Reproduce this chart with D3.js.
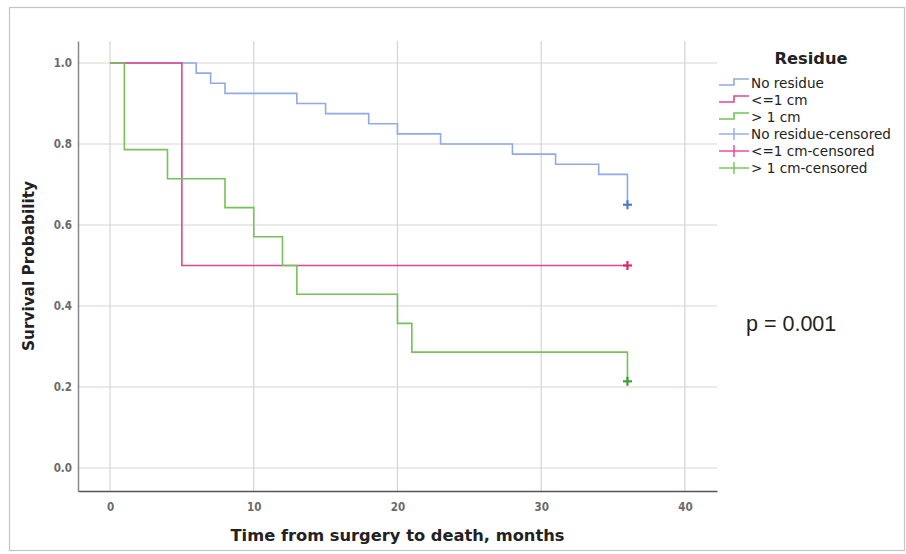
<!DOCTYPE html>
<html><head><meta charset="utf-8">
<script src="https://cdn.jsdelivr.net/npm/d3@7"></script>
<style>body{margin:0;background:#fff}svg{display:block}</style>
</head><body>
<svg id="c" width="906" height="554"></svg>
<script>
// ---- data ----
const noResidueTimes = [0, 6, 7, 8, 13, 15, 18, 20, 23, 28, 31, 34, 36];
const noResidueSurv  = [1, 0.975, 0.95, 0.925, 0.9, 0.875, 0.85, 0.825, 0.8, 0.775, 0.75, 0.725, 0.65];
const le1cmTimes = [0, 5, 36];
const le1cmSurv  = [1, 0.5, 0.5];
const gt1cmTimes = [0, 1, 4, 8, 10, 12, 13, 20, 21, 36];
const gt1cmSurv  = [1, 0.786, 0.714, 0.643, 0.571, 0.5, 0.429, 0.357, 0.286, 0.214];
const censoredTimes = [36, 36, 36];
const censoredSurv  = [0.65, 0.5, 0.214];
const seriesNames = ["No residue", "<=1 cm", "> 1 cm"];
const censoredNames = ["No residue-censored", "<=1 cm-censored", "> 1 cm-censored"];
const xTicks = [0, 10, 20, 30, 40];
const yTicks = [0, 0.2, 0.4, 0.6, 0.8, 1.0];
const legendTitle = "Residue";
const xTitle = "Time from surgery to death, months";
const yTitle = "Survival Probability";
const pText = "p = 0.001";

const lineColors = ["#91a9e4", "#e2468f", "#74c258"];
const markColors = ["#5577d0", "#d8286f", "#3f9c35"];

const svg = d3.select("#c");
svg.append("rect").attr("x", 9.5).attr("y", 7.5).attr("width", 895).attr("height", 543)
  .attr("fill", "#fff").attr("stroke", "#c4c4c4").attr("stroke-width", 1.2);

const x = d3.scaleLinear().domain([-2.226, 42.23]).range([78, 717]);
const y = d3.scaleLinear().domain([-0.0568, 1.0543]).range([491, 41]);

// grid
const grid = svg.append("g");
grid.selectAll(".vg").data(xTicks).join("line")
  .attr("x1", d => x(d)).attr("x2", d => x(d)).attr("y1", y.range()[1]).attr("y2", y.range()[0])
  .attr("stroke", "#d6d2d2").attr("stroke-width", 1.2);
grid.selectAll(".hg").data(yTicks).join("line")
  .attr("x1", x.range()[0]).attr("x2", x.range()[1]).attr("y1", d => y(d)).attr("y2", d => y(d))
  .attr("stroke", "#d9d3d3").attr("stroke-width", 1.2);

// axes
const xAxis = d3.axisBottom(x).tickValues(xTicks).tickSize(0).tickPadding(12).tickFormat(d3.format("d"));
const yAxis = d3.axisLeft(y).tickValues(yTicks).tickSize(0).tickPadding(6).tickFormat(d3.format(".1f"));
const gx = svg.append("g").attr("transform", `translate(0,${y.range()[0]})`).call(xAxis);
const gy = svg.append("g").attr("transform", `translate(${x.range()[0]},0)`).call(yAxis);
gx.select(".domain").attr("stroke", "#555").attr("stroke-width", 1.5);
gy.select(".domain").attr("stroke", "#888").attr("stroke-width", 1.5);
[gx, gy].forEach(g => g.selectAll("text")
  .attr("font-family", "'DejaVu Sans Condensed', 'DejaVu Sans', sans-serif")
  .attr("font-weight", "bold").attr("font-size", 11.5).attr("fill", "#6a6a6a"));

// curves
const line = d3.line().x(d => x(d[0])).y(d => y(d[1])).curve(d3.curveStepAfter);
const series = [
  d3.zip(noResidueTimes, noResidueSurv),
  d3.zip(le1cmTimes, le1cmSurv),
  d3.zip(gt1cmTimes, gt1cmSurv)
];
svg.append("g").selectAll("path").data(series).join("path")
  .attr("d", line).attr("fill", "none")
  .attr("stroke", (d, i) => lineColors[i]).attr("stroke-width", 1.6);

// censored marks
const cm = svg.append("g").selectAll("g").data(d3.range(censoredTimes.length)).join("g")
  .attr("transform", i => `translate(${x(censoredTimes[i])},${y(censoredSurv[i])})`)
  .attr("stroke", i => markColors[i]).attr("stroke-width", 2.2);
cm.append("line").attr("x1", -4.5).attr("x2", 4.5);
cm.append("line").attr("y1", -4.5).attr("y2", 4.5);

// titles
svg.append("text").attr("x", (x.range()[0] + x.range()[1]) / 2).attr("y", 541)
  .attr("text-anchor", "middle").attr("font-family", "'DejaVu Sans', sans-serif")
  .attr("font-weight", "bold").attr("font-size", 16.3).attr("fill", "#222").text(xTitle);
svg.append("text").attr("transform", `translate(34,${(y.range()[0] + y.range()[1]) / 2}) rotate(-90)`)
  .attr("text-anchor", "middle").attr("font-family", "'DejaVu Sans', sans-serif")
  .attr("font-weight", "bold").attr("font-size", 15.3).attr("fill", "#222").text(yTitle);

// legend
const lg = svg.append("g").attr("font-family", "'DejaVu Sans', sans-serif");
lg.append("text").attr("x", 811).attr("y", 64).attr("text-anchor", "middle")
  .attr("font-weight", "bold").attr("font-size", 16.3).attr("fill", "#222").text(legendTitle);
const rowY = i => 83 + i * 17;
seriesNames.forEach((n, i) => {
  const cy = rowY(i);
  lg.append("path").attr("d", `M719,${cy + 2}H734V${cy - 4}H749`).attr("fill", "none")
    .attr("stroke", lineColors[i]).attr("stroke-width", 1.6);
  lg.append("text").attr("x", 751).attr("y", cy).attr("dy", "0.35em")
    .attr("font-size", 13.6).attr("fill", "#222").text(n);
});
censoredNames.forEach((n, j) => {
  const cy = rowY(j + 3);
  lg.append("line").attr("x1", 719).attr("x2", 749).attr("y1", cy).attr("y2", cy)
    .attr("stroke", lineColors[j]).attr("stroke-width", 1.4);
  lg.append("line").attr("x1", 734).attr("x2", 734).attr("y1", cy - 6).attr("y2", cy + 6)
    .attr("stroke", lineColors[j]).attr("stroke-width", 1.4);
  lg.append("text").attr("x", 751).attr("y", cy).attr("dy", "0.35em")
    .attr("font-size", 13.6).attr("fill", "#222").text(n);
});

// p-value
svg.append("text").attr("x", 746).attr("y", 331).attr("font-family", "'Liberation Sans', Arial, sans-serif")
  .attr("font-size", 21.5).attr("fill", "#222").text(pText);
</script>
</body></html>
